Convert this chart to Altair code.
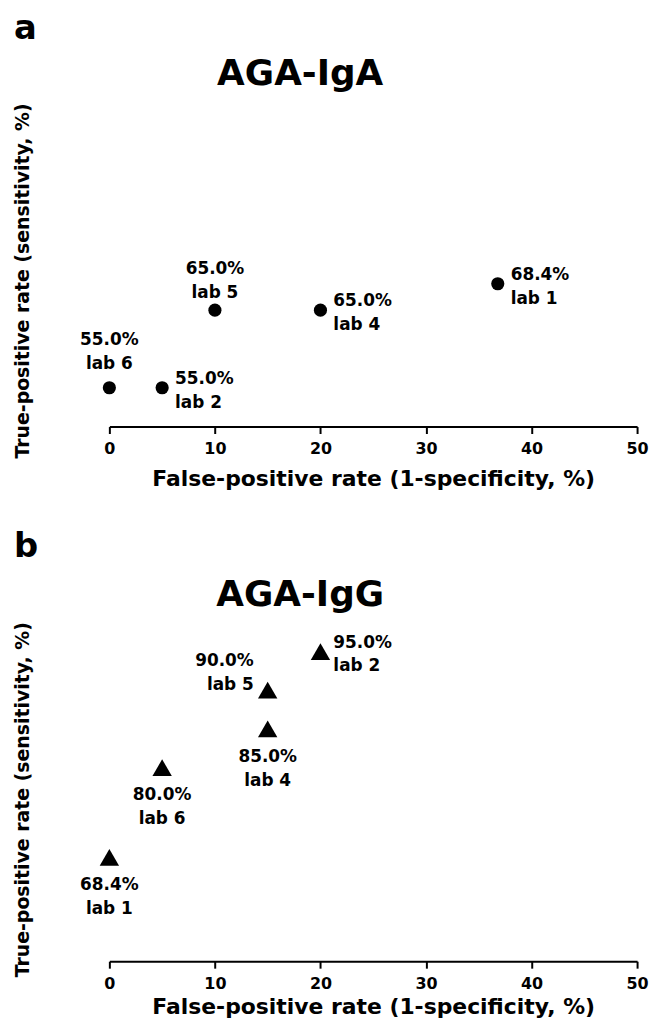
import altair as alt
import pandas as pd

# Panel a: AGA-IgA
a_labs = ["lab 1", "lab 2", "lab 4", "lab 5", "lab 6"]
a_fpr = [36.8, 5.0, 20.0, 10.0, 0.0]
a_sens = [68.4, 55.0, 65.0, 65.0, 55.0]
a_side = ["right", "right", "right", "above", "above2"]

# Panel b: AGA-IgG
b_labs = ["lab 1", "lab 2", "lab 4", "lab 5", "lab 6"]
b_fpr = [0.0, 20.0, 15.0, 15.0, 5.0]
b_sens = [68.4, 95.0, 85.0, 90.0, 80.0]
b_side = ["below", "right", "below", "left", "below"]

x_ticks = [0, 10, 20, 30, 40, 50]

FONT = "DejaVu Sans"
X_TITLE = "False-positive rate (1-specificity, %)"
Y_TITLE = "True-positive rate (sensitivity, %)"
W = 531

SIDE_CONF = {
    "right": dict(align="left", dx=13, dy=-4),
    "above": dict(align="center", dx=0, dy=-36),
    "above2": dict(align="center", dx=0, dy=-43),
    "below": dict(align="center", dx=0, dy=33),
    "left": dict(align="right", dx=-14, dy=-24),
}


def make_df(labs, fpr, sens, side):
    return pd.DataFrame({
        "lab": labs,
        "fpr": fpr,
        "sens": sens,
        "side": side,
        "label": [f"{s:.1f}%\n{l}" for s, l in zip(sens, labs)],
    })


def panel(df, shape, size, ydom, height, letter, head, head_y, title_y,
          letter_offset, xtitle_pad):
    x = alt.X("fpr:Q",
              scale=alt.Scale(domain=[0, 50], nice=False, zero=False),
              axis=alt.Axis(values=x_ticks, title=X_TITLE, grid=False,
                            domainColor="black", domainWidth=2,
                            tickColor="black", tickWidth=2, tickSize=7,
                            labelFontSize=16, labelFontWeight="bold",
                            labelColor="black", labelPadding=7, labelFlush=False,
                            titleFontSize=22, titleFontWeight="bold",
                            titleColor="black", titlePadding=xtitle_pad))
    y = alt.Y("sens:Q",
              scale=alt.Scale(domain=ydom, nice=False, zero=False),
              axis=alt.Axis(title=Y_TITLE, domain=False, ticks=False,
                            labels=False, grid=False,
                            titleFontSize=19, titleFontWeight="bold",
                            titleColor="black", titleAngle=270,
                            titleBaseline="bottom", titleAlign="center",
                            titleX=-77, titleY=title_y))
    base = alt.Chart(df).encode(x=x, y=y)
    pts = base.mark_point(shape=shape, filled=True, size=size,
                          color="black", opacity=1)
    layers = [pts]
    for side, c in SIDE_CONF.items():
        if side not in list(df["side"]):
            continue
        layers.append(
            base.transform_filter(alt.datum.side == side)
            .mark_text(font=FONT, fontSize=17, fontWeight="bold",
                       color="black", lineBreak="\n", lineHeight=24,
                       baseline="alphabetic", **c)
            .encode(text="label:N")
        )
    header = alt.Chart(pd.DataFrame({"t": [head]})).mark_text(
        font=FONT, fontSize=36, fontWeight="bold", color="black",
        align="center", baseline="middle"
    ).encode(text="t:N", x=alt.value(192), y=alt.value(head_y))
    layers.append(header)
    return alt.layer(*layers).properties(
        width=W, height=height,
        title=alt.TitleParams(letter, anchor="start", fontSize=34,
                              fontWeight="bold", color="black", font=FONT,
                              offset=letter_offset))


pa = panel(make_df(a_labs, a_fpr, a_sens, a_side), "circle", 175,
           [50, 92], 328, "a", "AGA-IgA", -27, 181, 10, 12)
pb = panel(make_df(b_labs, b_fpr, b_sens, b_side), "triangle-up", 380,
           [55, 98], 335, "b", "AGA-IgG", -33, 172, 14, 6)

chart = alt.vconcat(pa, pb, spacing=39).properties(
    padding={"left": 5, "top": 0, "right": 0, "bottom": 0}
).configure(font=FONT, view=alt.ViewConfig(stroke="transparent"))

chart.save("out.html", embed_options={"renderer": "svg", "actions": False})
